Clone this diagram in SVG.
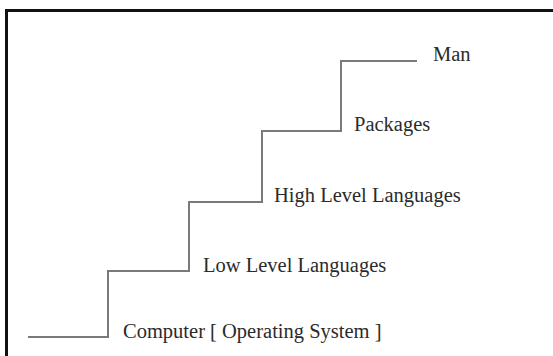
<svg xmlns="http://www.w3.org/2000/svg" width="553" height="356" viewBox="0 0 553 356">
  <style>
    .frame { stroke: #111; stroke-width: 3; fill: none; }
    .step { stroke: #7a7a7a; stroke-width: 2; fill: none; }
    .label { font-family: "Liberation Serif", "Times New Roman", serif; font-size: 20.5px; fill: #2b2b2b; }
  </style>
  <rect width="553" height="356" fill="#ffffff"/>
  <!-- outer frame: only top and left edges fall inside the canvas -->
  <g id="frame">
    <path class="frame" d="M6.5,380 V10.5 H560"/>
  </g>
  <!-- staircase connector -->
  <g id="connectors">
    <path class="step" d="M28,337 H108 V271 H189 V202 H262 V131 H341 V61 H417"/>
  </g>
  <g id="computer">
    <text class="label" x="123" y="338">Computer [ Operating System ]</text>
  </g>
  <g id="low-level">
    <text class="label" x="203" y="272">Low Level Languages</text>
  </g>
  <g id="high-level">
    <text class="label" x="274" y="202">High Level Languages</text>
  </g>
  <g id="packages">
    <text class="label" x="354" y="131">Packages</text>
  </g>
  <g id="man">
    <text class="label" x="433" y="61">Man</text>
  </g>
</svg>
